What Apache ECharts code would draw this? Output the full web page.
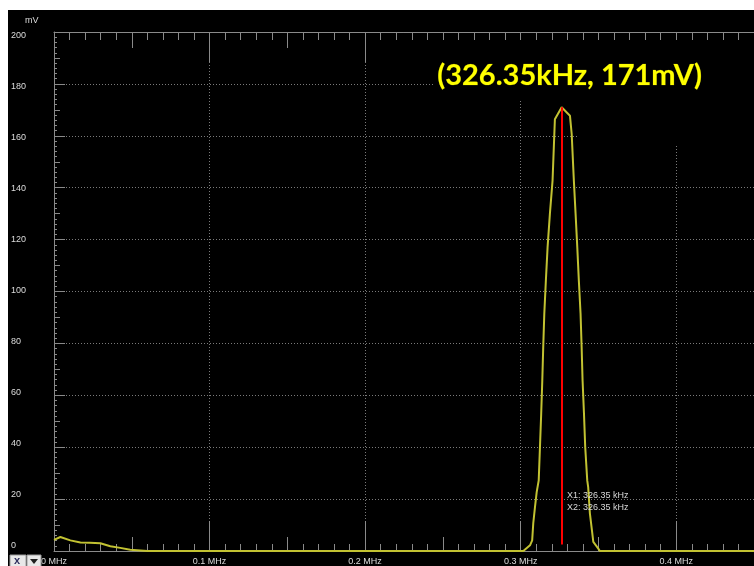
<!DOCTYPE html>
<html>
<head>
<meta charset="utf-8">
<script src="https://cdn.jsdelivr.net/npm/echarts@6/dist/echarts.min.js"></script>
<style>
html,body{margin:0;padding:0;background:#ffffff;}
#chart{position:absolute;left:8px;top:10px;width:746px;height:556px;background:#000;}
</style>
</head>
<body>
<div id="chart"></div>
<script>
// frequency in kHz, amplitude in mV
const freqKHz = [0, 0.3, 4.1, 10.5, 17, 23, 29.8, 36.2, 42.6, 49, 55.5, 60, 150, 250, 301.7, 306.0, 307.4, 308.1, 309.2, 310.3, 311.6, 312.4, 313.2, 313.9, 314.5, 315.2, 316.2, 317.3, 318.8, 320.5, 322.0, 326.35, 331.7, 332.8, 334.2, 335.3, 336.4, 337.4, 338.5, 339.2, 339.8, 340.7, 341.5, 342.8, 343.4, 344.5, 345.8, 346.7, 349.8, 350.9, 400, 450];
const ampMV   = [4.3, 4.5, 5.4, 4.1, 3.3, 3.2, 3.0, 1.8, 1.2, 0.5, 0.2, 0, 0, 0, 0, 2.2, 4.1, 10.7, 16.9, 22.7, 27.2, 40, 53, 65.7, 78.5, 91.5, 104.2, 117, 130, 142.7, 166.4, 171, 167.7, 160.7, 142.7, 130, 117, 104.2, 91.5, 78.5, 65.7, 53, 40, 27.2, 24.6, 14.5, 8, 3.5, 1, 0, 0, 0];
const xTickLabels = ['0 MHz', '0.1 MHz', '0.2 MHz', '0.3 MHz', '0.4 MHz'];
const yTickLabels = ['0', '20', '40', '60', '80', '100', '120', '140', '160', '180', '200'];
const yUnit = 'mV';
const cursorKHz = 326.35;
const cursorPeakMV = 171;
const cursorBaseMV = 2.5;

const chart = echarts.init(document.getElementById('chart'), null, {renderer: 'canvas'});
const axisGray = '#8a8a8a';
const labelColor = '#dcdcdc';
const dotted = {color: '#7a7a7a', type: [1, 2], width: 1};

function xAxisBase(pos) {
  return {type: 'value', position: pos, min: 0, max: 450, gridIndex: 0};
}
const option = {
  backgroundColor: '#000',
  animation: false,
  grid: [
    {left: 46, top: 22, right: 0, bottom: 15, containLabel: false},
    {left: 46, top: 26, right: 0, bottom: 20.5, containLabel: false}
  ],
  xAxis: [
    Object.assign(xAxisBase('bottom'), {
      interval: 100,
      axisLine: {show: true, lineStyle: {color: axisGray, width: 1}},
      axisTick: {show: true, inside: true, length: 30, lineStyle: {color: axisGray}},
      axisLabel: {show: true, color: labelColor, fontSize: 9, fontFamily: 'Liberation Sans', margin: 6, showMaxLabel: false,
        formatter: v => xTickLabels[Math.round(v / 100)] || ''},
      splitLine: {show: true, lineStyle: dotted}
    }),
    Object.assign(xAxisBase('bottom'), {
      interval: 50,
      axisLine: {show: false},
      axisTick: {show: true, inside: true, length: 14, lineStyle: {color: axisGray}},
      minorTick: {show: true, splitNumber: 5, length: 7, lineStyle: {color: axisGray}},
      axisLabel: {show: false}, splitLine: {show: false}
    }),
    Object.assign(xAxisBase('top'), {
      interval: 100,
      axisLine: {show: true, lineStyle: {color: axisGray, width: 1}},
      axisTick: {show: true, inside: true, length: 30, lineStyle: {color: axisGray}},
      axisLabel: {show: false}, splitLine: {show: false}
    }),
    Object.assign(xAxisBase('top'), {
      interval: 50,
      axisLine: {show: false},
      axisTick: {show: true, inside: true, length: 16, lineStyle: {color: axisGray}},
      minorTick: {show: true, splitNumber: 5, length: 8, lineStyle: {color: axisGray}},
      axisLabel: {show: false}, splitLine: {show: false}
    }),
    {type: 'value', gridIndex: 1, min: 0, max: 450, show: false}
  ],
  yAxis: [
    {
      type: 'value', position: 'left', min: 0, max: 200, interval: 20,
      axisLine: {show: true, lineStyle: {color: axisGray, width: 1}},
      axisTick: {show: true, inside: true, length: 11, lineStyle: {color: axisGray}},
      axisLabel: {show: false},
      splitLine: {show: true, lineStyle: dotted}
    },
    {
      type: 'value', position: 'left', min: 0, max: 200, interval: 10,
      axisLine: {show: false},
      axisTick: {show: true, inside: true, length: 6, lineStyle: {color: axisGray}},
      minorTick: {show: true, splitNumber: 5, length: 3, lineStyle: {color: axisGray}},
      axisLabel: {show: false}, splitLine: {show: false}
    },
    {
      type: 'value', gridIndex: 1, position: 'left', min: 0, max: 200, interval: 20,
      axisLine: {show: false}, axisTick: {show: false}, splitLine: {show: false},
      axisLabel: {show: true, color: labelColor, fontSize: 9, fontFamily: 'Liberation Sans', align: 'left', margin: 44,
        formatter: v => yTickLabels[Math.round(v / 20)] || ''}
    }
  ],
  series: [{
    type: 'line',
    xAxisIndex: 0, yAxisIndex: 0,
    data: freqKHz.map((f, i) => [f, ampMV[i]]),
    showSymbol: false, symbol: 'none',
    lineStyle: {color: '#c2c232', width: 2},
    z: 3,
    markLine: {
      silent: true, symbol: 'none', animation: false,
      lineStyle: {color: '#ff0000', width: 2, type: 'solid'},
      label: {show: false},
      data: [[{coord: [cursorKHz, cursorBaseMV]}, {coord: [cursorKHz, cursorPeakMV]}]]
    }
  }],
  graphic: [
    {type: 'rect', z: 1, shape: {x: 426, y: 30, width: 330, height: 60}, style: {fill: '#000'}},
    {type: 'rect', z: 1, shape: {x: 569, y: 89, width: 200, height: 45}, style: {fill: '#000'}},
    {type: 'text', z: 10, left: 17, top: 6, style: {text: yUnit, fill: labelColor, font: '9px "Liberation Sans"'}},
    {type: 'text', z: 10, left: 429, top: 51, style: {text: '(' + cursorKHz + 'kHz, ' + cursorPeakMV + 'mV)', fill: '#ffff00', font: 'bold 29px Lato', stroke: '#5a5a00', lineWidth: 0.5}},
    {type: 'text', z: 10, left: 559, top: 480, style: {text: 'X1: ' + cursorKHz + ' kHz\nX2: ' + cursorKHz + ' kHz', fill: '#d8d8d8', font: '9px "Liberation Sans"', lineHeight: 12}},
    {type: 'rect', z: 10, shape: {x: 2, y: 545, width: 16, height: 14}, style: {fill: '#e8e8e8', stroke: '#9a9a9a'}},
    {type: 'text', z: 11, left: 6, top: 545, style: {text: 'x', fill: '#303060', font: 'bold 11px "Liberation Sans"'}},
    {type: 'rect', z: 10, shape: {x: 19, y: 545, width: 14, height: 14}, style: {fill: '#e8e8e8', stroke: '#9a9a9a'}},
    {type: 'polygon', z: 11, shape: {points: [[22, 549], [30, 549], [26, 554]]}, style: {fill: '#202020'}}
  ]
};
chart.setOption(option);
</script>
</body>
</html>
